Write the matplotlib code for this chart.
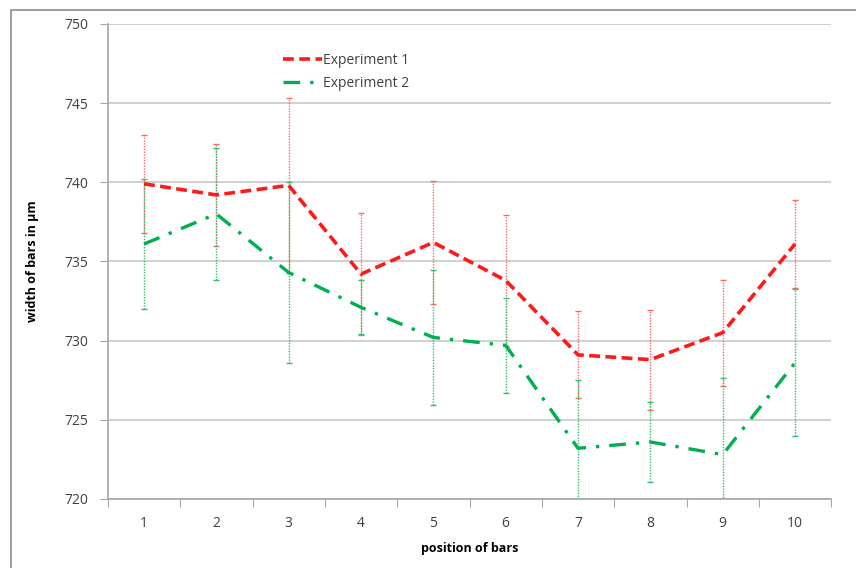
import matplotlib.pyplot as plt
from matplotlib.patches import Rectangle

positions = [1, 2, 3, 4, 5, 6, 7, 8, 9, 10]
exp1 = [739.9, 739.2, 739.8, 734.2, 736.2, 733.8, 729.1, 728.8, 730.5, 736.1]
exp1_err = [3.1, 3.2, 5.5, 3.85, 3.9, 4.15, 2.75, 3.15, 3.35, 2.8]
exp2 = [736.1, 738.0, 734.3, 732.1, 730.2, 729.7, 723.2, 723.6, 722.8, 728.6]
exp2_err = [4.1, 4.15, 5.7, 1.7, 4.25, 3.0, 4.3, 2.5, 4.85, 4.65]

plt.rcParams['font.family'] = ['Open Sans', 'DejaVu Sans']

fig = plt.figure(figsize=(8.56, 5.68), dpi=100)
ax = fig.add_axes([0.126, 0.1215, 0.845, 0.8365])

# outer frame like an exported office chart
fig.patches.append(Rectangle((0.013, -0.02), 1.0, 1.002, transform=fig.transFigure,
                             fill=False, edgecolor='#8c8c8c', linewidth=1.2))

red = '#ff1a1a'
green = '#00b050'

e1 = ax.errorbar(positions, exp1, yerr=exp1_err, color=red, linestyle=(0, (3, 1.5)),
                 linewidth=2.6, ecolor='#ff6666', elinewidth=1.0, capsize=2,
                 capthick=1.0, label='Experiment 1', zorder=3)
e2 = ax.errorbar(positions, exp2, yerr=exp2_err, color=green, linestyle=(0, (5, 3, 1, 3)),
                 linewidth=2.4, ecolor='#33c070', elinewidth=1.0, capsize=2,
                 capthick=1.0, label='Experiment 2', zorder=3)
for e in (e1, e2):
    for bl in e[2]:
        bl.set_linestyle((0, (1, 1)))

ax.set_xlim(0.5, 10.5)
ax.set_ylim(720, 750)
ax.set_yticks(range(720, 751, 5))
ax.set_xticks([x + 0.5 for x in range(0, 11)])
ax.set_xticklabels([])
ax.set_xticks(positions, minor=True)
ax.set_xticklabels([str(p) for p in positions], minor=True)
ax.tick_params(axis='x', which='minor', length=0, pad=12, labelsize=10, colors='#404040')
ax.tick_params(axis='x', which='major', length=6, color='#a6a6a6')
ax.tick_params(axis='y', length=6, color='#a6a6a6', labelsize=10, labelcolor='#404040', pad=8)

ax.grid(axis='y', color='#c8c8c8', linewidth=1.2)
ax.set_axisbelow(True)
for s in ('top', 'right'):
    ax.spines[s].set_visible(False)
for s in ('left', 'bottom'):
    ax.spines[s].set_color('#a6a6a6')
    ax.spines[s].set_linewidth(1.2)

ax.set_xlabel('position of bars', fontsize=9, fontweight='bold', labelpad=8)
ax.set_ylabel('width of bars in µm', fontsize=9, fontweight='bold', labelpad=18)

leg = ax.legend([e1[0], e2[0]], ['Experiment 1', 'Experiment 2'], loc='upper left',
                bbox_to_anchor=(0.225, 0.965), frameon=False,
                fontsize=10, handlelength=2.8, handletextpad=0.1, labelspacing=0.6)
for t in leg.get_texts():
    t.set_color('#404040')

fig.savefig('out.png', dpi=100)
